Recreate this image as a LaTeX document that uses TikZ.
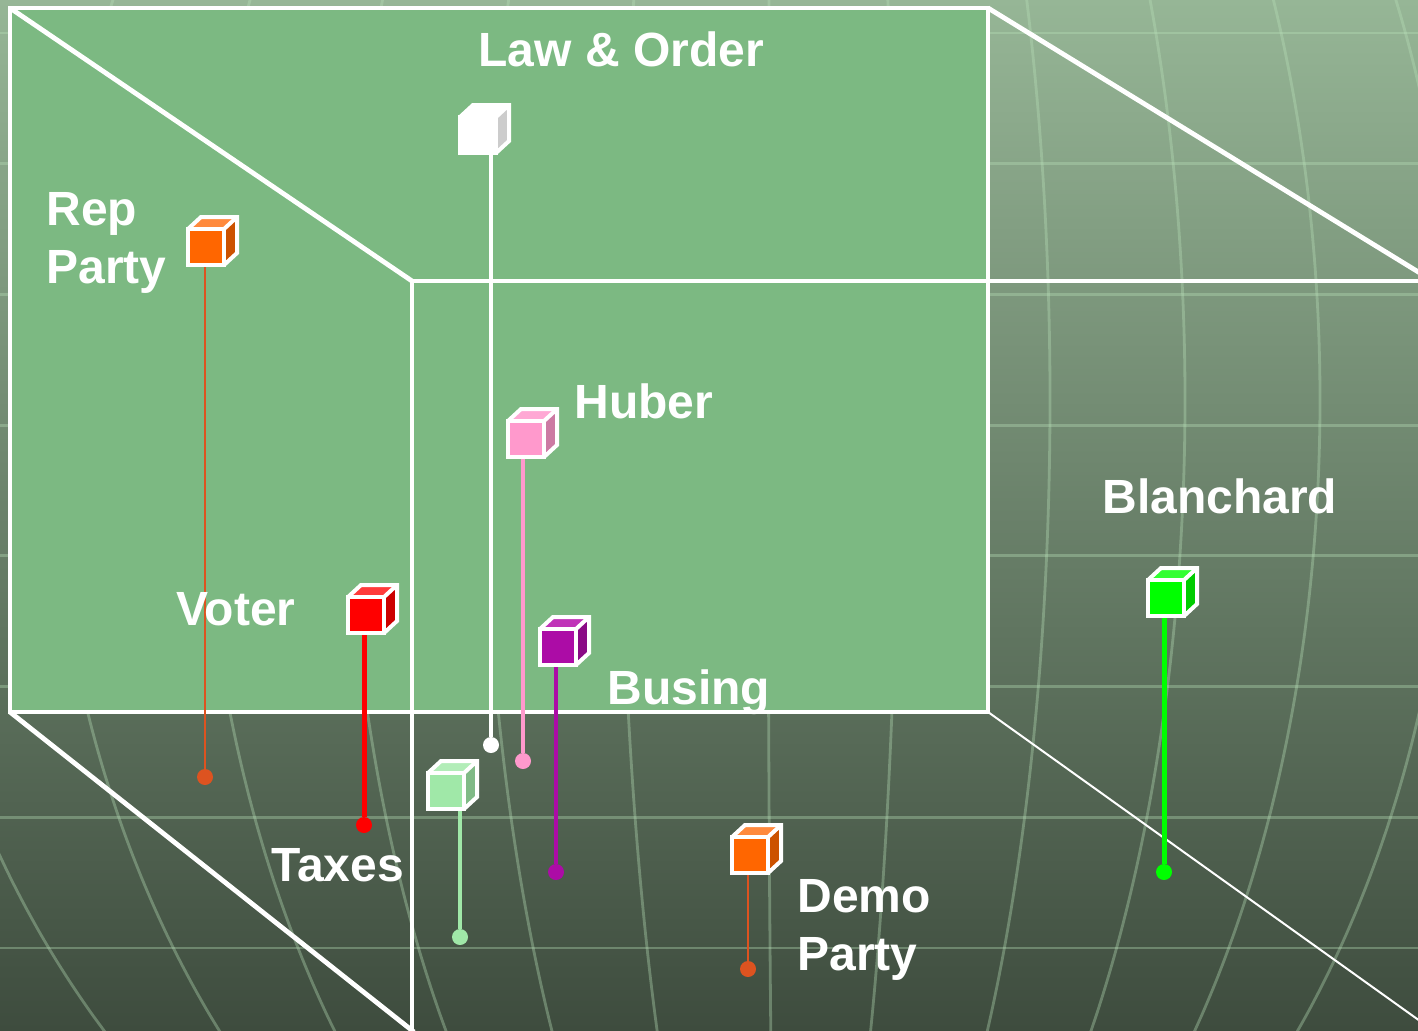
\documentclass[tikz,border=0pt]{standalone}
\usepackage{fontspec}
\setmainfont{Liberation Sans}
\definecolor{bgtop}{RGB}{150,182,150}
\definecolor{bgbot}{RGB}{62,76,62}
\definecolor{gridc}{RGB}{185,225,185}
\definecolor{panelc}{RGB}{124,185,130}
\definecolor{orfront}{RGB}{255,102,0}
\definecolor{ortop}{RGB}{255,138,61}
\definecolor{orside}{RGB}{204,82,0}
\definecolor{orstem}{RGB}{221,83,32}
\definecolor{rdfront}{RGB}{255,0,0}
\definecolor{rdtop}{RGB}{255,59,59}
\definecolor{rdside}{RGB}{204,0,0}
\definecolor{pkfront}{RGB}{255,153,204}
\definecolor{pktop}{RGB}{255,168,212}
\definecolor{pkside}{RGB}{204,122,163}
\definecolor{pufront}{RGB}{172,12,166}
\definecolor{putop}{RGB}{192,51,184}
\definecolor{puside}{RGB}{138,10,133}
\definecolor{lgfront}{RGB}{160,232,168}
\definecolor{lgtop}{RGB}{178,237,184}
\definecolor{lgside}{RGB}{128,186,134}
\definecolor{gnfront}{RGB}{0,255,0}
\definecolor{gntop}{RGB}{51,255,51}
\definecolor{gnside}{RGB}{0,204,0}
\definecolor{wside}{RGB}{204,204,204}
\newcommand{\cubefaces}[4]{%
  \fill[#2] (#1.south west) rectangle (#1.north east);
  \fill[#3] (#1.north west) -- ++(13,-12) -- ++(36,0) -- (#1.north east) -- cycle;
  \fill[#4] (#1.north east) -- ++(13,-12) -- ++(0,36) -- (#1.south east) -- cycle;
  \draw[cubeedge] (#1.south west) rectangle (#1.north east);
  \draw[cubeedge] (#1.north west) -- ++(13,-12) -- ++(36,0) -- ++(0,36) -- (#1.south east);
  \draw[cubeedge] (#1.north east) -- ++(13,-12);
}
\begin{document}
\begin{tikzpicture}[x=0.5pt,y=-0.5pt,
  cubebox/.style={rectangle, minimum size=18pt, inner sep=0pt, outer sep=0pt},
  cubeedge/.style={draw=white, line width=2pt},
  dotn/.style={circle, minimum size=8pt, inner sep=0pt, outer sep=0pt},
  lbl/.style={text=white, font=\fontsize{24}{29}\selectfont\bfseries, inner sep=0pt, anchor=base west, align=left},
  gridline/.style={draw=gridc, line width=1.4pt, opacity=0.36},
]
\useasboundingbox (0,0) rectangle (1418,1030);
\shade[top color=bgtop, bottom color=bgbot] (0,0) rectangle (1418,1030);
% grid
\foreach \yy in {33,163.7,294.4,425.1,555.8,686.5,817.2,947.9}
  \draw[gridline] (0,\yy) -- (1418,\yy);
\foreach \k in {-880,-730,-580,-435,-297,-160,-12,118,270,405,540,674}
  \draw[gridline] plot[domain=-10:1040, samples=40, smooth, variable=\t]
    ({780+(\k)*sqrt(1-((\t-400)/985)^2)},\t);
% panel and box frame
\fill[panelc] (10,8) rectangle (988,712);
\draw[white, line width=2pt] (10,8) rectangle (988,712);
\draw[white, line width=2.4pt] (10,8) -- (412,281);
\draw[white, line width=1.6pt] (412,1032) -- (412,281) -- (1420,281);
\draw[white, line width=2.4pt] (988,8) -- (1420,273);
\draw[white, line width=2.4pt] (10,712) -- (414,1032);
\draw[white, line width=1pt] (988,712) -- (1420,1021);
% cube positions
\node[cubebox] (cLaw) at (478,135) {};
\node[cubebox] (cRep) at (206,247) {};
\node[cubebox] (cVoter) at (366,615) {};
\node[cubebox] (cHuber) at (526,439) {};
\node[cubebox] (cBusing) at (558,647) {};
\node[cubebox] (cTaxes) at (446,791) {};
\node[cubebox] (cDemo) at (750,855) {};
\node[cubebox] (cBlan) at (1166,598) {};
% dots
\node[dotn, fill=white] (dLaw) at (491,745) {};
\node[dotn, fill=orstem] (dRep) at (205,777) {};
\node[dotn, fill=rdfront] (dVoter) at (364,825) {};
\node[dotn, fill=pkfront] (dHuber) at (523,761) {};
\node[dotn, fill=pufront] (dBusing) at (556,872) {};
\node[dotn, fill=lgfront] (dTaxes) at (460,937) {};
\node[dotn, fill=orstem] (dDemo) at (748,969) {};
\node[dotn, fill=gnfront] (dBlan) at (1164,872) {};
% stems
\draw[white, line width=2pt] (dLaw) -- (dLaw |- cLaw.south);
\draw[orstem, line width=1.2pt] (dRep) -- (dRep |- cRep.south);
\draw[rdfront, line width=2.5pt] (dVoter) -- (dVoter |- cVoter.south);
\draw[pkfront, line width=2pt] (dHuber) -- (dHuber |- cHuber.south);
\draw[pufront, line width=2.4pt] (dBusing) -- (dBusing |- cBusing.south);
\draw[lgfront, line width=2pt] (dTaxes) -- (dTaxes |- cTaxes.south);
\draw[orstem, line width=1.2pt] (dDemo) -- (dDemo |- cDemo.south);
\draw[gnfront, line width=2.5pt] (dBlan) -- (dBlan |- cBlan.south);
% cubes
\cubefaces{cLaw}{white}{white}{wside}
\cubefaces{cRep}{orfront}{ortop}{orside}
\cubefaces{cVoter}{rdfront}{rdtop}{rdside}
\cubefaces{cHuber}{pkfront}{pktop}{pkside}
\cubefaces{cBusing}{pufront}{putop}{puside}
\cubefaces{cTaxes}{lgfront}{lgtop}{lgside}
\cubefaces{cDemo}{orfront}{ortop}{orside}
\cubefaces{cBlan}{gnfront}{gntop}{gnside}
% labels (base anchor = baseline of last line)
\node[lbl] (tLaw) at (478,66) {Law \& Order};
\node[lbl] (tRep) at (46,283) {Rep\\Party};
\node[lbl] (tHuber) at (574,418) {Huber};
\node[lbl] (tBlan) at (1102,513) {Blanchard};
\node[lbl] (tVoter) at (176,625) {Voter};
\node[lbl] (tBusing) at (607,704) {Busing};
\node[lbl] (tTaxes) at (271,881) {Taxes};
\node[lbl] (tDemo) at (797,970) {Demo\\Party};
\end{tikzpicture}
\end{document}
